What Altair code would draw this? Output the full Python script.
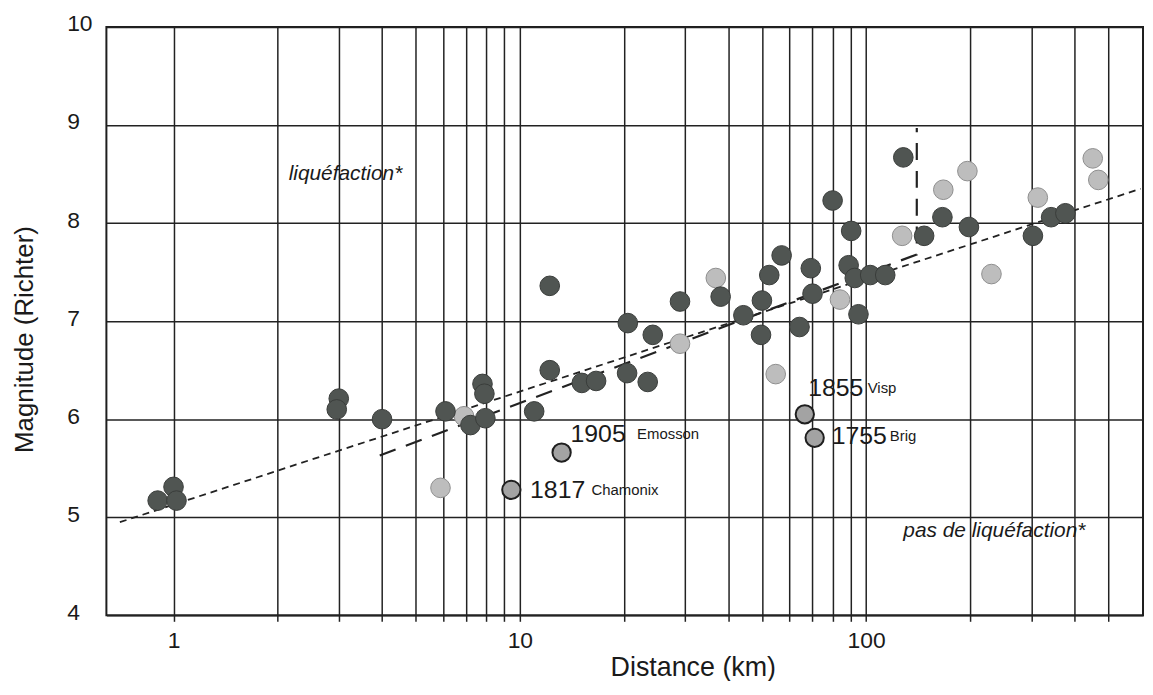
import altair as alt
import pandas as pd

# ---- data ----
dark_dist = [0.9, 1.0, 1.02, 3.0, 2.96, 4.0, 6.1, 7.2, 7.95, 7.8, 7.9, 11.0, 12.2, 12.2,
             15.1, 16.6, 20.4, 20.5, 23.4, 24.2, 29.0, 38.0, 44.2, 50.0, 49.7, 52.5, 57.0,
             64.2, 69.2, 70.0, 80.0, 90.5, 89.0, 92.7, 102.7, 113.5, 95.0, 128, 147, 166,
             198, 303, 342, 376]
dark_mag = [5.17, 5.31, 5.17, 6.21, 6.10, 6.0, 6.08, 5.94, 6.01, 6.36, 6.26, 6.08, 6.5, 7.36,
            6.37, 6.39, 6.47, 6.98, 6.38, 6.86, 7.2, 7.25, 7.06, 7.21, 6.86, 7.47, 7.67,
            6.94, 7.54, 7.28, 8.23, 7.92, 7.57, 7.44, 7.47, 7.47, 7.07, 8.67, 7.87, 8.06,
            7.96, 7.87, 8.06, 8.10]

light_dist = [5.9, 6.9, 29, 36.8, 54.8, 84, 127, 167, 196, 230, 313, 451, 468]
light_mag = [5.3, 6.03, 6.77, 7.44, 6.46, 7.22, 7.87, 8.34, 8.53, 7.48, 8.26, 8.66, 8.44]

hist_dist = [9.45, 13.2, 66.5, 71.0]
hist_mag = [5.28, 5.66, 6.05, 5.81]
hist_year = ["1817", "1905", "1855", "1755"]
hist_name = ["Chamonix", "Emosson", "Visp", "Brig"]
year_x = [10.7, 14.0, 68.0, 79.5]
year_y = [5.28, 5.85, 6.32, 5.83]
name_x = [16.1, 21.8, 101.0, 117.0]
name_y = [5.28, 5.85, 6.32, 5.83]

fit_dist = [0.7, 620]
fit_mag = [4.95, 8.35]

bound_dist = [3.94, 140, 140]
bound_mag = [5.63, 7.68, 8.97]

zone_text = ["liquéfaction*", "pas de liquéfaction*"]
zone_x = [2.15, 128]
zone_y = [8.5, 4.86]

x_grid = [1, 2, 3, 4, 5, 6, 7, 8, 9, 10, 20, 30, 40, 50, 60, 70, 80, 90,
          100, 200, 300, 400, 500]
y_ticks = [4, 5, 6, 7, 8, 9, 10]

FONT = "Liberation Sans"
INK = "#222222"

xs = alt.Scale(type="log", domain=[0.64, 630], nice=False)
ys = alt.Scale(domain=[4, 10], nice=False, zero=False)

x_axis = alt.Axis(values=x_grid, grid=True, gridColor=INK, gridWidth=1.5,
                  ticks=True, tickSize=6, tickColor=INK, tickWidth=1.5,
                  domain=False, format="~g",
                  labelExpr="(datum.value == 1 || datum.value == 10 || datum.value == 100) ? datum.label : ''",
                  labelOverlap=False, labelFlush=False, labelFont=FONT, labelFontSize=23,
                  labelColor="#1a1a1a", labelPadding=8,
                  title="Distance (km)", titleFont=FONT, titleFontSize=27,
                  titleFontWeight="normal", titleColor="#1a1a1a",
                  titleX=590, titleY=53, titleBaseline="middle")
y_axis = alt.Axis(values=y_ticks, grid=True, gridColor=INK, gridWidth=1.5,
                  ticks=False, domain=False, format="d", labelAlign="left", labelPadding=40,
                  labelBaseline="middle", labelOffset=-3, labelFont=FONT,
                  labelFontSize=23, labelColor="#1a1a1a",
                  title="Magnitude (Richter)", titleFont=FONT, titleFontSize=26,
                  titleFontWeight="normal", titleColor="#1a1a1a",
                  titleX=-82, titleY=314, titleBaseline="middle", titleAngle=-90)

dark_df = pd.DataFrame({"d": dark_dist, "m": dark_mag})
light_df = pd.DataFrame({"d": light_dist, "m": light_mag})
hist_df = pd.DataFrame({"d": hist_dist, "m": hist_mag})
year_df = pd.DataFrame({"d": year_x, "m": year_y, "t": hist_year})
name_df = pd.DataFrame({"d": name_x, "m": name_y, "t": hist_name})
fit_df = pd.DataFrame({"d": fit_dist, "m": fit_mag})
bound_df = pd.DataFrame({"d": bound_dist, "m": bound_mag, "i": list(range(len(bound_dist)))})
zone_df = pd.DataFrame({"d": zone_x, "m": zone_y, "t": zone_text})

fit = alt.Chart(fit_df).mark_line(color="#222", strokeWidth=1.8, strokeDash=[7, 5]).encode(
    x=alt.X("d:Q", scale=xs, axis=x_axis),
    y=alt.Y("m:Q", scale=ys, axis=y_axis),
)
bound = alt.Chart(bound_df).mark_line(color="#222", strokeWidth=2.2, strokeDash=[17, 11]).encode(
    x=alt.X("d:Q", scale=xs), y=alt.Y("m:Q", scale=ys), order="i:O"
)
light = alt.Chart(light_df).mark_circle(size=390, opacity=1, color="#bdbdbd",
                                        stroke="#8e8e8e", strokeWidth=1).encode(
    x=alt.X("d:Q", scale=xs), y=alt.Y("m:Q", scale=ys)
)
dark = alt.Chart(dark_df).mark_circle(size=390, opacity=1, color="#505552",
                                      stroke="#393c3a", strokeWidth=1).encode(
    x=alt.X("d:Q", scale=xs), y=alt.Y("m:Q", scale=ys)
)
hist = alt.Chart(hist_df).mark_circle(size=340, opacity=1, color="#a3a3a3",
                                      stroke="#1f1f1f", strokeWidth=2).encode(
    x=alt.X("d:Q", scale=xs), y=alt.Y("m:Q", scale=ys)
)
years = alt.Chart(year_df).mark_text(align="left", baseline="middle", font=FONT,
                                     fontSize=25, color="#1a1a1a").encode(
    x=alt.X("d:Q", scale=xs), y=alt.Y("m:Q", scale=ys), text="t:N"
)
names = alt.Chart(name_df).mark_text(align="left", baseline="middle", font=FONT,
                                     fontSize=15, color="#1a1a1a").encode(
    x=alt.X("d:Q", scale=xs), y=alt.Y("m:Q", scale=ys), text="t:N"
)
zones = alt.Chart(zone_df).mark_text(align="left", baseline="middle", font=FONT,
                                     fontSize=21, fontStyle="italic", color="#1a1a1a").encode(
    x=alt.X("d:Q", scale=xs), y=alt.Y("m:Q", scale=ys), text="t:N"
)

chart = alt.layer(fit, bound, light, dark, hist, years, names, zones).properties(
    width=1043, height=592,
    autosize=alt.AutoSizeParams(type="none"),
    padding={"left": 99, "top": 17, "right": 2, "bottom": 64},
    background="white",
).configure_view(stroke="#1e1e1e", strokeWidth=2)

chart.save("out.html", embed_options={"renderer": "svg", "actions": False})
